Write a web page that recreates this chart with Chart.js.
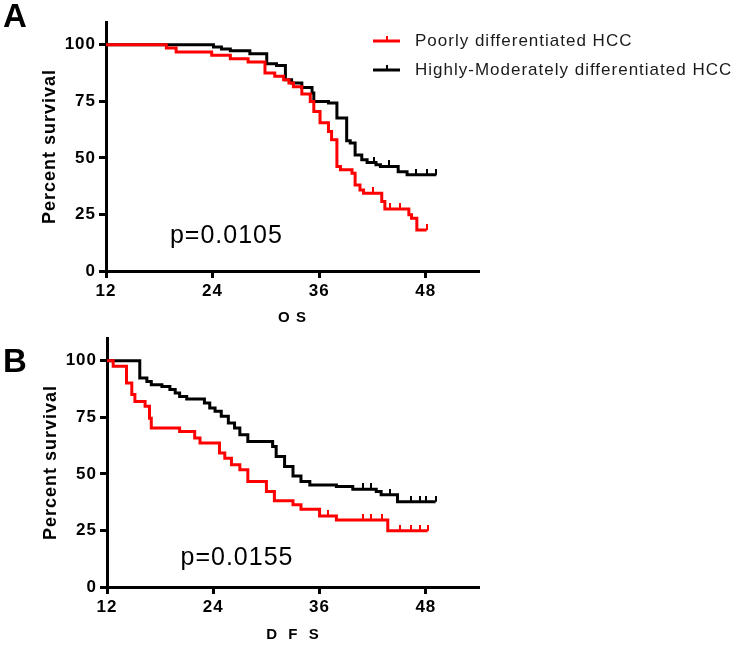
<!DOCTYPE html>
<html>
<head>
<meta charset="utf-8">
<script src="https://cdn.jsdelivr.net/npm/chart.js@4.4.1/dist/chart.umd.min.js"></script>
<style>
  html, body { margin: 0; padding: 0; background: #fff; }
  #wrap { position: relative; width: 747px; height: 645px; }
  .panel { position: absolute; left: 0; width: 747px; height: 329px; }
  #panelA { top: 0; }
  #panelB { top: 316px; }
</style>
</head>
<body>
<div id="wrap">
  <div class="panel" id="panelA"><canvas id="osChart" width="747" height="329"></canvas></div>
  <div class="panel" id="panelB"><canvas id="dfsChart" width="747" height="329"></canvas></div>
</div>
<script>
// months / percent survival
const groupLabels = ['Poorly differentiated HCC', 'Highly-Moderately differentiated HCC'];
const groupColors = ['#ff0000', '#000000'];

const xTicks = [12, 24, 36, 48];
const yTicks = [0, 25, 50, 75, 100];

// A: overall survival
const osPoorTime = [12, 18.8, 19.9, 23.9, 26.0, 28.0, 29.9, 31.0, 32.0, 32.6, 33.1, 34.05, 35.0, 35.4, 36.1, 37.05, 37.4, 38.0, 38.4, 39.7, 40.05, 40.6, 41.0, 43.05, 43.4, 46.1, 46.4, 47.0, 48.1];
const osPoorSurv = [100, 98.5, 96.8, 95.3, 93.8, 92.3, 87.5, 86.0, 84.5, 83.0, 81.4, 78.2, 74.9, 70.5, 65.5, 61.6, 58.0, 46.2, 44.7, 43.2, 38.0, 35.8, 34.4, 30.7, 27.4, 24.8, 23.3, 18.1, 18.1];
const osPoorCensor = [42.1, 44.0, 45.1, 48.1];

const osHighTime = [12, 24.1, 25.0, 26.0, 28.2, 30.1, 31.2, 32.2, 32.9, 34.05, 35.2, 35.4, 37.05, 38.0, 39.1, 39.5, 40.05, 40.8, 41.4, 42.4, 42.9, 44.9, 45.9, 49.2];
const osHighSurv = [100, 99.0, 98.1, 97.3, 96.0, 91.6, 90.8, 84.5, 83.0, 81.1, 78.6, 74.9, 74.2, 67.6, 57.5, 56.5, 51.3, 49.1, 47.9, 46.9, 46.2, 43.9, 42.5, 42.5];
const osHighCensor = [42.2, 43.9, 46.9, 48.1, 49.2];

// B: disease free survival
const dfsPoorTime = [12, 12.7, 14.2, 14.8, 15.15, 16.3, 16.8, 17.0, 20.2, 21.9, 22.5, 24.7, 25.3, 26.05, 27.0, 27.9, 30.0, 30.9, 33.0, 33.9, 36.0, 37.9, 43.7, 48.2];
const dfsPoorSurv = [100, 97.5, 90.1, 85.0, 82.0, 79.8, 74.6, 70.2, 68.7, 65.8, 63.6, 59.2, 56.9, 54.0, 51.8, 46.6, 42.2, 38.1, 36.3, 34.4, 31.4, 29.6, 24.8, 24.8];
const dfsPoorCensor = [36.9, 40.9, 41.8, 43.0, 45.1, 46.3, 47.3, 48.2];

const dfsHighTime = [12, 15.7, 16.5, 17.0, 18.2, 19.1, 19.7, 20.2, 21.0, 23.0, 23.6, 24.2, 24.9, 25.7, 26.4, 27.0, 27.9, 30.7, 31.1, 32.05, 33.0, 33.9, 34.9, 37.9, 39.75, 42.4, 42.95, 44.8, 49.1];
const dfsHighSurv = [100, 92.3, 90.8, 89.4, 88.6, 87.2, 85.7, 84.2, 83.0, 81.3, 79.1, 77.6, 75.4, 72.4, 70.2, 67.3, 64.3, 62.1, 57.7, 53.2, 49.0, 46.6, 45.1, 44.4, 43.2, 42.2, 40.7, 37.7, 37.7];
const dfsHighCensor = [40.9, 41.8, 43.9, 46.3, 47.3, 48.0, 49.1];

const FONT = '"Liberation Sans", Arial, Helvetica, sans-serif';

// survival level of a step curve at time t
function survAt(times, surv, t) {
    let v = surv[0];
    for (let i = 0; i < times.length; i++) {
        if (times[i] <= t) v = surv[i];
    }
    return v;
}

// small upward censor tick, used as point image
function censorMark(color) {
    const c = document.createElement('canvas');
    c.width = 2;
    c.height = 12;
    const g = c.getContext('2d');
    g.fillStyle = color;
    g.fillRect(0, 0, 2, 6);
    return c;
}

function curve(label, times, surv, color) {
    return {
        label: label,
        data: times.map((t, i) => ({ x: t, y: surv[i] })),
        borderColor: color,
        backgroundColor: color,
        borderWidth: 3,
        stepped: true,
        pointRadius: 0,
        fill: false,
        borderJoinStyle: 'miter',
        borderCapStyle: 'butt'
    };
}

function censors(times, surv, marks, color) {
    return {
        label: 'censored',
        type: 'scatter',
        data: marks.map(t => ({ x: t, y: survAt(times, surv, t) })),
        pointStyle: censorMark(color),
        showLine: false,
        isCensor: true
    };
}

const textPlugin = {
    id: 'panelText',
    beforeDraw(chart) {
        chart.ctx.letterSpacing = '1px';
    },
    afterDraw(chart) {
        const o = chart.options.plugins.panelText;
        const ctx = chart.ctx;
        const xs = chart.scales.x, ys = chart.scales.y;
        ctx.save();
        ctx.letterSpacing = '1px';
        ctx.fillStyle = '#000';
        ctx.textBaseline = 'alphabetic';
        ctx.textAlign = 'left';
        // panel letter
        ctx.font = 'bold 33px ' + FONT;
        ctx.fillText(o.letter, 3, o.letterY);
        // p value
        ctx.font = '25px ' + FONT;
        ctx.fillText(o.pText, xs.getPixelForValue(o.pAt[0]), ys.getPixelForValue(o.pAt[1]));
        // legend
        if (o.legend) {
            ctx.font = '17px ' + FONT;
            ctx.textBaseline = 'middle';
            chart.data.datasets.filter(d => !d.isCensor).forEach((d, i) => {
                const y = 41 + i * 29;
                ctx.strokeStyle = d.borderColor;
                ctx.fillStyle = d.borderColor;
                ctx.lineWidth = 3;
                ctx.beginPath();
                ctx.moveTo(373, y);
                ctx.lineTo(400, y);
                ctx.stroke();
                ctx.fillRect(386, y - 5, 2, 5);
                ctx.fillStyle = '#1a1a1a';
                ctx.fillText(d.label, 415, y);
            });
        }
        ctx.restore();
    }
};

function axisGrid() {
    return {
        display: true,
        drawOnChartArea: false,
        drawTicks: true,
        tickLength: 7,
        tickWidth: 3,
        tickColor: '#000',
        color: '#000'
    };
}

function buildPanel(id, cfg) {
    const ctx = document.getElementById(id).getContext('2d');
    return new Chart(ctx, {
        type: 'line',
        data: {
            datasets: [
                curve(groupLabels[0], cfg.poor[0], cfg.poor[1], groupColors[0]),
                curve(groupLabels[1], cfg.high[0], cfg.high[1], groupColors[1]),
                censors(cfg.poor[0], cfg.poor[1], cfg.poor[2], groupColors[0]),
                censors(cfg.high[0], cfg.high[1], cfg.high[2], groupColors[1])
            ]
        },
        options: {
            responsive: false,
            animation: false,
            layout: { padding: { left: 0, top: 22, right: 268, bottom: 0 } },
            plugins: {
                legend: { display: false },
                tooltip: { enabled: false },
                panelText: {
                    letter: cfg.letter,
                    letterY: cfg.letterY,
                    pText: cfg.pText,
                    pAt: cfg.pAt,
                    legend: cfg.legend
                }
            },
            scales: {
                x: {
                    type: 'linear',
                    min: 12,
                    max: 54,
                    afterBuildTicks: s => { s.ticks = xTicks.map(v => ({ value: v })); },
                    afterFit: s => { s.height = 58; },
                    grid: axisGrid(),
                    border: { display: true, color: '#000', width: 3 },
                    ticks: { color: '#000', padding: 3, font: { family: FONT, size: 17, weight: 'bold' } },
                    title: {
                        display: true,
                        text: cfg.xTitle,
                        color: '#000',
                        padding: { top: 0, bottom: cfg.xTitlePad },
                        font: { family: FONT, size: 15, weight: 'bold' }
                    }
                },
                y: {
                    type: 'linear',
                    min: 0,
                    max: 110,
                    afterBuildTicks: s => { s.ticks = yTicks.map(v => ({ value: v })); },
                    afterFit: s => { s.width = cfg.axisLeft; },
                    grid: axisGrid(),
                    border: { display: true, color: '#000', width: 3 },
                    ticks: { color: '#000', padding: 3, font: { family: FONT, size: 17, weight: 'bold' } },
                    title: {
                        display: true,
                        text: 'Percent survival',
                        color: '#000',
                        padding: { top: cfg.yTitlePad, bottom: 0 },
                        font: { family: FONT, size: 18, weight: 'bold' }
                    }
                }
            }
        },
        plugins: [textPlugin]
    });
}

buildPanel('osChart', {
    poor: [osPoorTime, osPoorSurv, osPoorCensor],
    high: [osHighTime, osHighSurv, osHighCensor],
    letter: 'A', letterY: 27,
    pText: 'p=0.0105', pAt: [19.2, 12.4],
    xTitle: 'O S', xTitlePad: 2,
    axisLeft: 106, yTitlePad: 39,
    legend: true
});

buildPanel('dfsChart', {
    poor: [dfsPoorTime, dfsPoorSurv, dfsPoorCensor],
    high: [dfsHighTime, dfsHighSurv, dfsHighCensor],
    letter: 'B', letterY: 56,
    pText: 'p=0.0155', pAt: [20.3, 9.7],
    xTitle: 'D  F  S', xTitlePad: 1,
    axisLeft: 107, yTitlePad: 40,
    legend: false
});
</script>
</body>
</html>
